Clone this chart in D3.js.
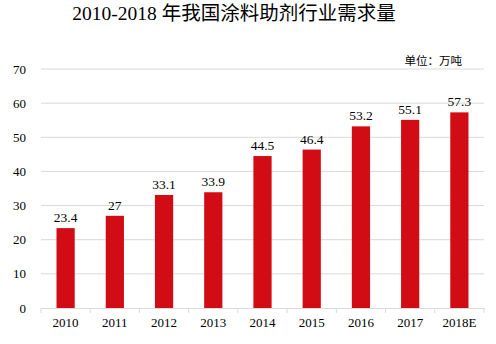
<!DOCTYPE html>
<html>
<head>
<meta charset="utf-8">
<script src="https://cdn.jsdelivr.net/npm/d3@7"></script>
<style>
  body { margin: 0; background: #fff; }
  text { font-family: "Liberation Serif", "Times New Roman", serif; }
</style>
</head>
<body>
<script>
// Data
const years = ["2010", "2011", "2012", "2013", "2014", "2015", "2016", "2017", "2018E"];
const demand = [23.4, 27, 33.1, 33.9, 44.5, 46.4, 53.2, 55.1, 57.3];
const yTicks = [0, 10, 20, 30, 40, 50, 60, 70];

// SVG size
const w = 496;
const h = 344;
const plotLeft = 41, plotRight = 484, plotTop = 69, plotBottom = 308;

const svg = d3.select("body")
    .append("svg")
    .attr("width", w)
    .attr("height", h);

// Scales
const xScale = d3.scaleBand()
    .domain(years)
    .range([plotLeft, plotRight])
    .paddingInner(0.63)
    .paddingOuter(0.315);

const yScale = d3.scaleLinear()
    .domain([0, 70])
    .range([plotBottom, plotTop]);

// Gridlines
svg.append("g")
    .selectAll("line")
    .data(yTicks.filter(d => d > 0))
    .join("line")
    .attr("x1", plotLeft)
    .attr("x2", plotRight)
    .attr("y1", d => yScale(d))
    .attr("y2", d => yScale(d))
    .attr("stroke", "#d9d9d9")
    .attr("stroke-width", 1);

// Y labels
svg.append("g")
    .selectAll("text")
    .data(yTicks)
    .join("text")
    .attr("x", 26)
    .attr("y", d => yScale(d) + 4.5)
    .attr("text-anchor", "end")
    .attr("font-size", 13)
    .attr("fill", "#000")
    .text(d => d);

// Bars
svg.append("g")
    .selectAll("rect")
    .data(demand)
    .join("rect")
    .attr("x", (d, i) => xScale(years[i]))
    .attr("y", d => yScale(d))
    .attr("width", xScale.bandwidth())
    .attr("height", d => plotBottom - yScale(d))
    .attr("fill", "#d20c14");

// Value labels
svg.append("g")
    .selectAll("text")
    .data(demand)
    .join("text")
    .attr("x", (d, i) => xScale(years[i]) + xScale.bandwidth() / 2)
    .attr("y", d => yScale(d) - 6)
    .attr("text-anchor", "middle")
    .attr("font-size", 13.5)
    .attr("fill", "#000")
    .text(d => d);

// X axis
const bottomAxis = d3.axisBottom(xScale).tickSize(0).tickPadding(10);
const xAxis = svg.append("g")
    .attr("transform", `translate(0, ${plotBottom})`)
    .call(bottomAxis);
xAxis.select(".domain").attr("stroke", "#d9d9d9");
xAxis.selectAll("text")
    .attr("font-size", 13)
    .attr("font-family", "Liberation Serif, serif")
    .attr("fill", "#000");

// Band boundary ticks
svg.append("g")
    .selectAll("line")
    .data(d3.range(years.length + 1))
    .join("line")
    .attr("x1", i => plotLeft + i * xScale.step())
    .attr("x2", i => plotLeft + i * xScale.step())
    .attr("y1", plotBottom)
    .attr("y2", plotBottom + 5)
    .attr("stroke", "#d9d9d9");

// Title
svg.append("text")
    .attr("x", 234)
    .attr("y", 20)
    .attr("text-anchor", "middle")
    .attr("font-size", 19.5)
    .style("font-family", "'Liberation Serif', 'Noto Sans CJK SC', serif")
    .text("2010-2018 年我国涂料助剂行业需求量");

// Unit
svg.append("text")
    .attr("x", 462)
    .attr("y", 65)
    .attr("text-anchor", "end")
    .attr("font-size", 11.5)
    .style("font-family", "'Noto Sans CJK SC', sans-serif")
    .text("单位：万吨");
</script>
</body>
</html>
